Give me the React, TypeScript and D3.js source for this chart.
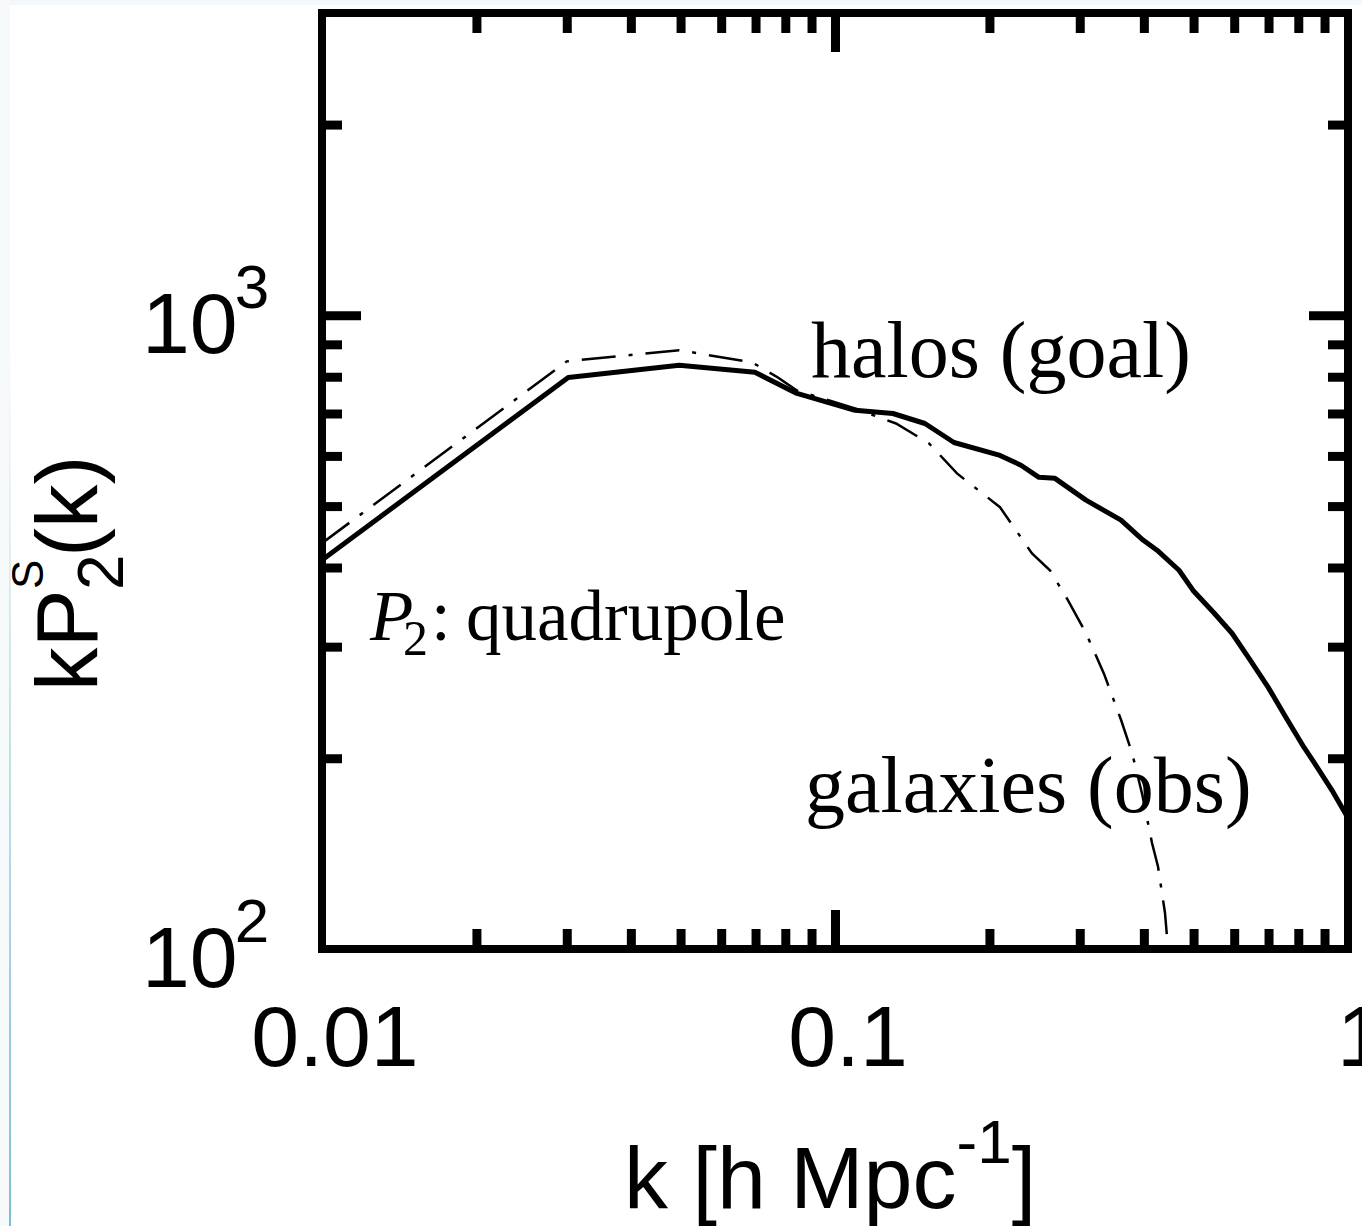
import React, { useEffect, useRef } from "react";
import * as d3 from "d3";

const WIDTH = 1362;
const HEIGHT = 1226;

// halos (goal): solid curve, k vs kP2(k)
const haloK = [0.01, 0.0302, 0.0497, 0.0698, 0.0843, 0.1094, 0.1297, 0.1497, 0.1706, 0.2097, 0.2304, 0.2498, 0.2684, 0.3085, 0.361, 0.3985, 0.4243, 0.4684, 0.4989, 0.5482, 0.5941, 0.6442, 0.6985, 0.757, 0.8209, 0.8585, 0.9307, 1.0];
const haloP = [411, 798, 834, 813, 753, 708, 700, 675, 630, 601, 580, 555, 553, 511, 475, 442, 426, 396, 368, 339, 315, 286, 259, 232, 208, 197, 178, 161];

// galaxies (obs): dash-dot curve
const galaxyK = [0.01, 0.03, 0.0497, 0.0689, 0.0774, 0.0843, 0.1094, 0.1315, 0.1525, 0.1729, 0.2097, 0.2421, 0.2624, 0.2846, 0.3085, 0.3344, 0.361, 0.3793, 0.3967, 0.4149, 0.4262, 0.4398, 0.4459];
const galaxyP = [437, 846, 881, 843, 798, 761, 713, 675, 628, 563, 498, 421, 396, 355, 315, 272, 230, 204, 176, 147, 135, 114, 100];

// ticks
const xMajor = [0.1];
const xMinor = [0.02, 0.03, 0.04, 0.05, 0.06, 0.07, 0.08, 0.09, 0.2, 0.3, 0.4, 0.5, 0.6, 0.7, 0.8, 0.9];
const yMajor = [1000];
const yMinor = [200, 300, 400, 500, 600, 700, 800, 900, 2000];
const xLabelValues = [0.01, 0.1, 1];
const xLabelText = ["0.01", "0.1", "1"];
const yLabelValues = [100, 1000];
const yLabelExp = ["2", "3"];

const SANS = "'Liberation Sans', Arial, Helvetica, sans-serif";
const SERIF = "'Liberation Serif', 'Times New Roman', serif";

export default function App() {
  const svgRef = useRef<SVGSVGElement>(null);

  useEffect(() => {
    const svg = d3.select(svgRef.current);
    svg.selectAll("*").remove();

    const x = d3.scaleLog().domain([0.01, 1]).range([322, 1348]);
    const y = d3.scaleLog().domain([100, 3000]).range([949, 13]);
    const [x0, x1] = x.range();
    const [y0, y1] = y.range();

    // page background and the faint screenshot edges
    svg.append("rect").attr("width", WIDTH).attr("height", HEIGHT).attr("fill", "#fff");
    svg.append("rect").attr("width", WIDTH).attr("height", 5).attr("fill", "#f4f8fa");
    svg.append("rect").attr("width", 10).attr("height", HEIGHT).attr("fill", "#f7fafb");
    const defs = svg.append("defs");
    const grad = defs.append("linearGradient").attr("id", "edge")
      .attr("x1", 0).attr("x2", 0).attr("y1", 0).attr("y2", 1);
    grad.append("stop").attr("offset", "0%").attr("stop-color", "#7fbfd0").attr("stop-opacity", 0);
    grad.append("stop").attr("offset", "100%").attr("stop-color", "#7fbfd0").attr("stop-opacity", 1);
    svg.append("rect").attr("x", 9).attr("y", 350).attr("width", 2).attr("height", HEIGHT - 350)
      .attr("fill", "url(#edge)");

    defs.append("clipPath").attr("id", "plot-clip")
      .append("rect").attr("x", x0).attr("y", y1).attr("width", x1 - x0).attr("height", y0 - y1);

    // curves
    const line = d3.line<number[]>().x(d => x(d[0])).y(d => y(d[1]));
    const curves = svg.append("g").attr("clip-path", "url(#plot-clip)");
    curves.append("path")
      .datum(d3.zip(galaxyK, galaxyP))
      .attr("d", line)
      .attr("fill", "none")
      .attr("stroke", "#000")
      .attr("stroke-width", 2.5)
      .attr("stroke-dasharray", "34 13 4 13");
    curves.append("path")
      .datum(d3.zip(haloK, haloP))
      .attr("d", line)
      .attr("fill", "none")
      .attr("stroke", "#000")
      .attr("stroke-width", 5)
      .attr("stroke-linejoin", "round");

    // inward ticks on all four sides
    const addTicks = (axis: any, transform: string) => {
      const g = svg.append("g").attr("transform", transform).call(axis);
      g.select(".domain").remove();
      g.selectAll("text").remove();
      g.selectAll("line").attr("stroke", "#000").attr("stroke-width", 9);
    };
    const minorLen = -20;
    const majorLen = -39;
    addTicks(d3.axisBottom(x).tickValues(xMinor).tickSize(minorLen), `translate(0,${y0})`);
    addTicks(d3.axisBottom(x).tickValues(xMajor).tickSize(majorLen), `translate(0,${y0})`);
    addTicks(d3.axisTop(x).tickValues(xMinor).tickSize(minorLen), `translate(0,${y1})`);
    addTicks(d3.axisTop(x).tickValues(xMajor).tickSize(majorLen), `translate(0,${y1})`);
    addTicks(d3.axisLeft(y).tickValues(yMinor).tickSize(minorLen), `translate(${x0},0)`);
    addTicks(d3.axisLeft(y).tickValues(yMajor).tickSize(majorLen), `translate(${x0},0)`);
    addTicks(d3.axisRight(y).tickValues(yMinor).tickSize(minorLen), `translate(${x1},0)`);
    addTicks(d3.axisRight(y).tickValues(yMajor).tickSize(majorLen), `translate(${x1},0)`);

    // frame
    svg.append("rect")
      .attr("x", x0).attr("y", y1)
      .attr("width", x1 - x0).attr("height", y0 - y1)
      .attr("fill", "none").attr("stroke", "#000").attr("stroke-width", 8);

    // x tick labels
    svg.append("g").selectAll("text")
      .data(xLabelValues)
      .join("text")
      .attr("x", d => x(d) + 13)
      .attr("y", y0 + 117)
      .attr("text-anchor", "middle")
      .attr("font-family", SANS)
      .attr("font-size", 86)
      .text((d, i) => xLabelText[i]);

    // y tick labels, 10^n
    const yl = svg.append("g").selectAll("text")
      .data(yLabelValues)
      .join("text")
      .attr("x", 142)
      .attr("y", d => y(d) + 38)
      .attr("font-family", SANS)
      .attr("font-size", 86);
    yl.append("tspan").text("10");
    yl.append("tspan").attr("dy", -45).attr("dx", -3).attr("font-size", 62)
      .text((d, i) => yLabelExp[i]);

    // x axis title
    const xt = svg.append("text")
      .attr("x", 624)
      .attr("y", 1208)
      .attr("font-family", SANS)
      .attr("font-size", 88);
    xt.append("tspan").text("k [h Mpc");
    xt.append("tspan").attr("dy", -45).attr("font-size", 62).text("-1");
    xt.append("tspan").attr("dy", 45).text("]");

    // y axis title, rotated
    const yt = svg.append("g")
      .attr("transform", "translate(97,691) rotate(-90)")
      .attr("font-family", SANS);
    yt.append("text").attr("x", 0).attr("y", 0).attr("font-size", 87).text("kP");
    yt.append("text").attr("x", 102).attr("y", -54).attr("font-size", 44).text("S");
    yt.append("text").attr("x", 101).attr("y", 26).attr("font-size", 64).text("2");
    yt.append("text").attr("x", 134).attr("y", 0).attr("font-size", 87).text("(k)");

    // annotations
    svg.append("text")
      .attr("x", 811).attr("y", 377)
      .attr("font-family", SERIF).attr("font-size", 80)
      .text("halos (goal)");
    svg.append("text")
      .attr("x", 805).attr("y", 812)
      .attr("font-family", SERIF).attr("font-size", 80)
      .text("galaxies (obs)");
    const q = svg.append("text")
      .attr("x", 370).attr("y", 640)
      .attr("font-family", SERIF).attr("font-size", 71);
    q.append("tspan").attr("font-style", "italic").text("P");
    q.append("tspan").attr("x", 403).attr("dy", 15).attr("font-size", 50).text("2");
    q.append("tspan").attr("x", 431).attr("dy", -15).text(":");
    q.append("tspan").attr("x", 466).text("quadrupole");
  }, []);

  return (
    <svg
      ref={svgRef}
      width={WIDTH}
      height={HEIGHT}
      style={{ position: "absolute", left: 0, top: 0, display: "block" }}
    />
  );
}
